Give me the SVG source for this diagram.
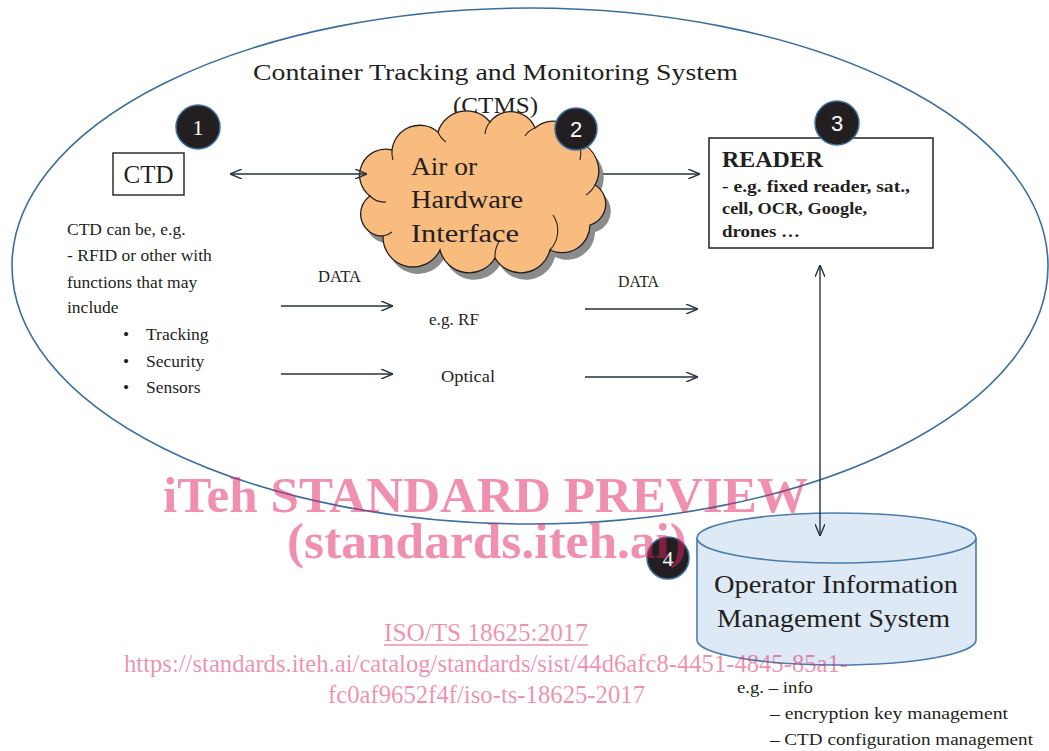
<svg xmlns="http://www.w3.org/2000/svg" width="1049" height="751" viewBox="0 0 1049 751">
<style>
.t{font-family:"Liberation Serif","Times New Roman",serif;fill:#231f20}
.b{font-weight:bold}
.ln{stroke:#26323f;stroke-width:1.4;fill:none}
.num{fill:#231f20;stroke:#3d6f9e;stroke-width:1.5}
.nt{font-family:"Liberation Sans",Arial,sans-serif;fill:#ffffff;font-size:22px;text-anchor:middle}
.wm{font-family:"Liberation Serif","Times New Roman",serif;fill:#e11f5f;fill-opacity:0.5}
</style>
<defs>
<marker id="arr" viewBox="0 0 12 10" refX="12" refY="5" markerWidth="12" markerHeight="10" markerUnits="userSpaceOnUse" orient="auto-start-reverse">
<path d="M0,0 L12,5 L0,10" fill="none" stroke="#26323f" stroke-width="1.4"/>
</marker>
</defs>
<rect width="1049" height="751" fill="#ffffff"/>

<g id="ctms">
<ellipse cx="530" cy="266" rx="518" ry="258" fill="none" stroke="#3b6e9f" stroke-width="1.6"/>
<text class="t" x="253" y="80" font-size="24" textLength="485" lengthAdjust="spacingAndGlyphs">Container Tracking and Monitoring System</text>
<text class="t" x="453" y="113" font-size="24" textLength="85" lengthAdjust="spacingAndGlyphs">(CTMS)</text>
</g>

<g id="ctd">
<rect x="113" y="153" width="71" height="42" fill="#ffffff" stroke="#231f20" stroke-width="1.4"/>
<text class="t" x="148.5" y="183" font-size="25" text-anchor="middle">CTD</text>
<text class="t" font-size="17.5" lengthAdjust="spacingAndGlyphs">
<tspan x="67" y="235">CTD can be, e.g.</tspan>
<tspan x="67" y="261">- RFID or other with</tspan>
<tspan x="67" y="288">functions that may</tspan>
<tspan x="67" y="313">include</tspan>
</text>
<text class="t" font-size="17.5">
<tspan x="123" y="340">•</tspan><tspan x="146" y="340">Tracking</tspan>
<tspan x="123" y="367">•</tspan><tspan x="146" y="367">Security</tspan>
<tspan x="123" y="393">•</tspan><tspan x="146" y="393">Sensors</tspan>
</text>
</g>

<g id="interface">
<path transform="translate(5,7)" fill="#8c8c8c" d="M383,236 A22,22 0 0 1 370,196 A26,26 0 0 1 392,150 A28,28 0 0 1 438,132 A30,30 0 0 1 490,122 A26,26 0 0 1 535,128 A26,26 0 0 1 578,142 A30,30 0 0 1 595,185 A22,22 0 0 1 590,225 A28,28 0 0 1 550,250 A30,30 0 0 1 495,258 A30,30 0 0 1 440,250 A30,30 0 0 1 383,236 Z"/>
<path fill="#f9bc7f" stroke="#231f20" stroke-width="1.3" d="M383,236 A22,22 0 0 1 370,196 A26,26 0 0 1 392,150 A28,28 0 0 1 438,132 A30,30 0 0 1 490,122 A26,26 0 0 1 535,128 A26,26 0 0 1 578,142 A30,30 0 0 1 595,185 A22,22 0 0 1 590,225 A28,28 0 0 1 550,250 A30,30 0 0 1 495,258 A30,30 0 0 1 440,250 A30,30 0 0 1 383,236 Z"/>
<g fill="none" stroke="#231f20" stroke-width="1.1">
<path d="M383,236 A18,18 0 0 0 392,232"/>
<path d="M370,196 A20,20 0 0 0 386,202"/>
<path d="M392,150 A26,26 0 0 0 393,160"/>
<path d="M438,132 A22,22 0 0 0 446,142"/>
<path d="M490,122 A22,22 0 0 0 485,134"/>
<path d="M535,128 A20,20 0 0 0 525,136"/>
<path d="M578,142 A26,26 0 0 1 580,160"/>
<path d="M595,185 A26,26 0 0 1 586,195"/>
<path d="M550,250 A28,28 0 0 0 553,215"/>
<path d="M495,258 A30,30 0 0 1 500,240"/>
</g>
<text class="t" x="411" y="175" font-size="26" textLength="66" lengthAdjust="spacingAndGlyphs">Air or</text>
<text class="t" x="411" y="208" font-size="26" textLength="112" lengthAdjust="spacingAndGlyphs">Hardware</text>
<text class="t" x="411" y="242" font-size="26" textLength="108" lengthAdjust="spacingAndGlyphs">Interface</text>
</g>

<g id="reader">
<rect x="709" y="138" width="224" height="110" fill="#ffffff" stroke="#231f20" stroke-width="1.5"/>
<text class="t b" x="722" y="167" font-size="24" textLength="101" lengthAdjust="spacingAndGlyphs">READER</text>
<text class="t b" x="722" y="192" font-size="17" textLength="188" lengthAdjust="spacingAndGlyphs">- e.g. fixed reader, sat.,</text>
<text class="t b" x="722" y="214" font-size="17" textLength="145" lengthAdjust="spacingAndGlyphs">cell, OCR, Google,</text>
<text class="t b" x="722" y="237" font-size="17" textLength="78" lengthAdjust="spacingAndGlyphs">drones …</text>
</g>

<g id="oims">
<path d="M697,538 L697,640 A139.5,25 0 0 0 976,640 L976,538" fill="#dde9f5" stroke="#4a7cae" stroke-width="1.6"/>
<ellipse cx="836.5" cy="538" rx="139.5" ry="25" fill="#dde9f5" stroke="#4a7cae" stroke-width="1.6"/>
<text class="t" x="714" y="593" font-size="25" textLength="244" lengthAdjust="spacingAndGlyphs">Operator Information</text>
<text class="t" x="717" y="627" font-size="25" textLength="233" lengthAdjust="spacingAndGlyphs">Management System</text>
<text class="t" x="737" y="693" font-size="17" textLength="76" lengthAdjust="spacingAndGlyphs">e.g. – info</text>
<text class="t" x="770" y="719" font-size="17" textLength="238" lengthAdjust="spacingAndGlyphs">– encryption key management</text>
<text class="t" x="770" y="745" font-size="17" textLength="263" lengthAdjust="spacingAndGlyphs">– CTD configuration management</text>
</g>

<g id="connectors">
<line class="ln" x1="230" y1="174" x2="367" y2="174" marker-start="url(#arr)" marker-end="url(#arr)"/>
<line class="ln" x1="603" y1="174" x2="700" y2="174" marker-end="url(#arr)"/>
<line class="ln" x1="820" y1="265" x2="820" y2="536" marker-start="url(#arr)" marker-end="url(#arr)"/>
<line class="ln" x1="281" y1="306" x2="393" y2="306" marker-end="url(#arr)"/>
<line class="ln" x1="281" y1="374" x2="393" y2="374" marker-end="url(#arr)"/>
<line class="ln" x1="585" y1="309" x2="698" y2="309" marker-end="url(#arr)"/>
<line class="ln" x1="585" y1="377" x2="698" y2="377" marker-end="url(#arr)"/>
<text class="t" x="318" y="282" font-size="16.5" textLength="43" lengthAdjust="spacingAndGlyphs">DATA</text>
<text class="t" x="618" y="287" font-size="16.5" textLength="41" lengthAdjust="spacingAndGlyphs">DATA</text>
<text class="t" x="429" y="325" font-size="17" textLength="50" lengthAdjust="spacingAndGlyphs">e.g. RF</text>
<text class="t" x="441" y="382" font-size="17" textLength="54" lengthAdjust="spacingAndGlyphs">Optical</text>
</g>

<g id="badge1"><circle class="num" cx="198" cy="127" r="22"/><text class="nt" x="198" y="135" style="font-family:'Liberation Serif',serif">1</text></g>
<g id="badge2"><circle class="num" cx="576" cy="129" r="21"/><text class="nt" x="576" y="137">2</text></g>
<g id="badge3"><circle class="num" cx="837" cy="123" r="22"/><text class="nt" x="837" y="131">3</text></g>
<g id="badge4"><circle class="num" cx="668" cy="558" r="21"/><text class="nt" x="668" y="566" style="font-family:'Liberation Serif',serif">4</text></g>

<g id="watermark">
<text class="wm b" x="163" y="512" font-size="51" textLength="645" lengthAdjust="spacingAndGlyphs">iTeh STANDARD PREVIEW</text>
<text class="wm b" x="287" y="558" font-size="51" textLength="400" lengthAdjust="spacingAndGlyphs">(standards.iteh.ai)</text>
<text class="wm" x="384" y="641" font-size="25" textLength="204" lengthAdjust="spacingAndGlyphs">ISO/TS 18625:2017</text>
<line x1="384" y1="645" x2="588" y2="645" stroke="#e11f5f" stroke-opacity="0.5" stroke-width="1.3"/>
<text class="wm" x="124" y="672" font-size="25" textLength="724" lengthAdjust="spacingAndGlyphs">https://standards.iteh.ai/catalog/standards/sist/44d6afc8-4451-4845-85a1-</text>
<text class="wm" x="328" y="703" font-size="25" textLength="317" lengthAdjust="spacingAndGlyphs">fc0af9652f4f/iso-ts-18625-2017</text>
</g>
</svg>
